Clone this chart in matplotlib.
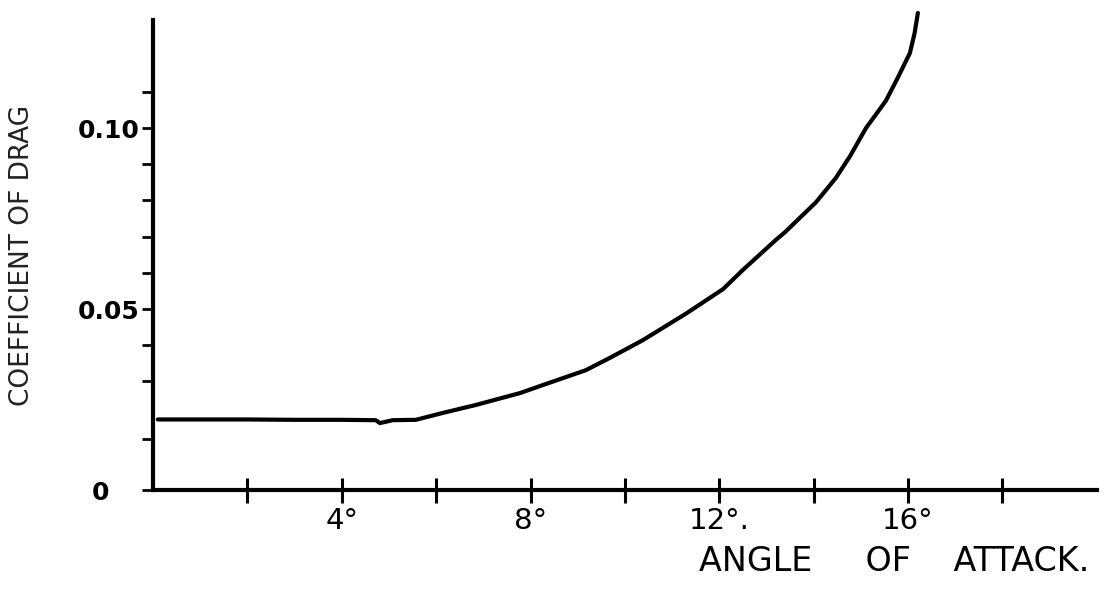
import numpy as np
import matplotlib
matplotlib.use('Agg')
import matplotlib.pyplot as plt
import matplotlib.transforms as mtransforms

# angle of attack (deg) vs drag coefficient
angle = [0.1, 1.0, 2.0, 3.0, 4.0, 4.72, 4.81, 5.08, 5.57, 6.14, 6.84, 7.78,
         8.26, 9.17, 9.68, 10.38, 11.29, 12.08, 12.50, 13.20, 13.39, 14.05,
         14.47, 14.77, 15.11, 15.53, 15.78, 16.04, 16.14, 16.21]
cd = [0.0195, 0.0195, 0.0195, 0.0194, 0.0194, 0.0193, 0.0185, 0.0193, 0.0194,
      0.0213, 0.0235, 0.0268, 0.0290, 0.0331, 0.0365, 0.0414, 0.0487, 0.0555,
      0.0608, 0.0691, 0.0712, 0.0795, 0.0862, 0.0922, 0.1000, 0.1075, 0.1138,
      0.1207, 0.1262, 0.1318]

x_ticks = [2, 4, 6, 8, 10, 12, 14, 16, 18]
x_labels = ["", "4°", "", "8°", "", "12°.", "", "16°", ""]
y_major = [0, 0.05, 0.10]
y_major_labels = ["0", "0.05", "0.10"]
y_minor = [0.014, 0.03, 0.04, 0.06, 0.07, 0.08, 0.09, 0.11]

fig = plt.figure(figsize=(11.05, 5.94), dpi=100)
fig.patch.set_facecolor("white")
ax = fig.add_axes([0.1385, 0.175, 0.854, 0.791])

ax.plot(angle, cd, color="black", linewidth=3.0, solid_capstyle="round",
        solid_joinstyle="round", clip_on=False)

ax.set_xlim(0, 20)
ax.set_ylim(0, 0.1298)

ax.spines["top"].set_visible(False)
ax.spines["right"].set_visible(False)
for sp in ("left", "bottom"):
    ax.spines[sp].set_linewidth(3.0)
    ax.spines[sp].set_color("black")

ax.set_xticks(x_ticks)
ax.set_xticklabels(x_labels, fontsize=21)
ax.tick_params(axis="x", direction="inout", length=18, width=2.2, pad=3)

ax.set_yticks(y_major)
ax.set_yticklabels(y_major_labels, fontsize=18, fontweight="bold")
ax.set_yticks(y_minor, minor=True)
ax.tick_params(axis="y", which="both", direction="out", length=8, width=2.0, pad=2)

# the "0" sits a little further from the axis in the drawing
zero_lbl = ax.get_yticklabels()[0]
zero_lbl.set_transform(zero_lbl.get_transform() +
                       mtransforms.ScaledTranslation(-30 / 100, 0, fig.dpi_scale_trans))

ax.set_ylabel("COEFFICIENT OF DRAG", fontsize=19, color="#222222")
ax.yaxis.set_label_coords(-0.125, 0.5)

ax.set_xlabel("ANGLE     OF    ATTACK.", fontsize=24)
ax.xaxis.set_label_coords(0.785, -0.118)

fig.savefig("out.png", dpi=100, facecolor="white")
